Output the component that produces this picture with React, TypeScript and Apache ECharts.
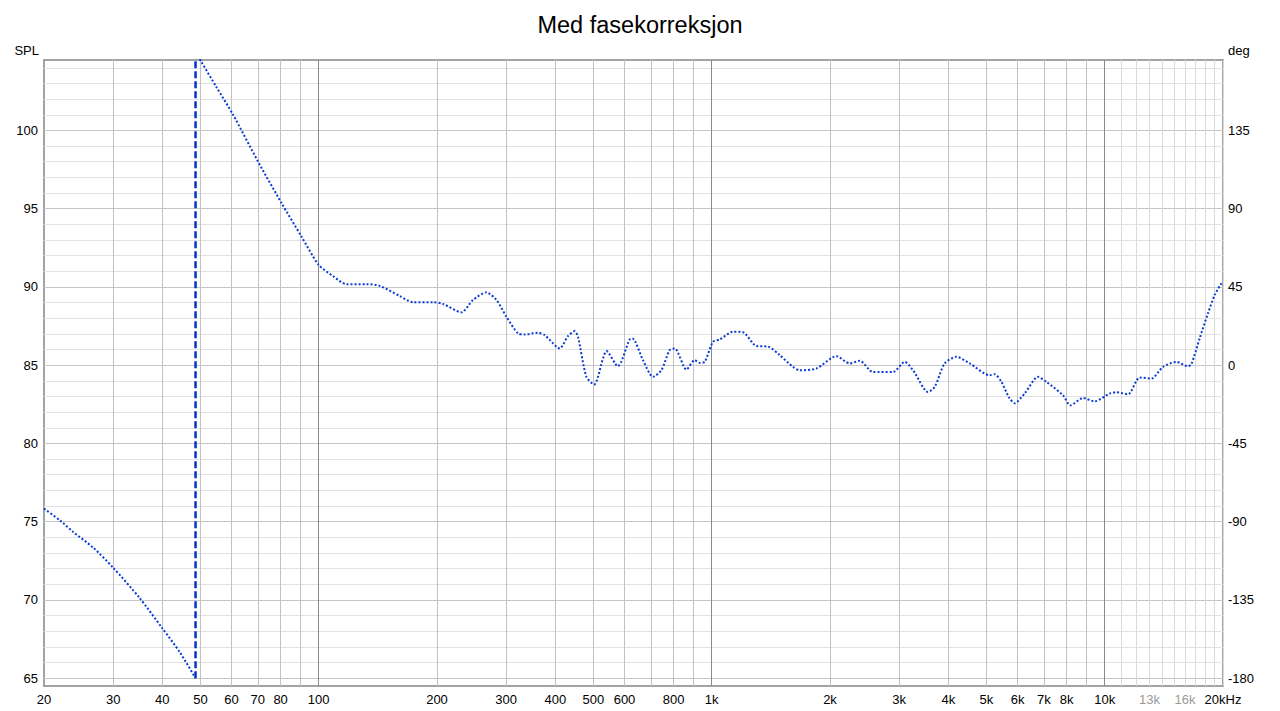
import React, { useEffect, useRef } from "react";
import * as echarts from "echarts";

// Phase trace below the wrap point (Hz, degrees)
const freqLow = [20, 22, 23.7, 26.7, 30, 35, 40, 44.3, 48.6];
const phaseLow = [-82.5, -89.4, -95.8, -105, -116.5, -133.8, -151.3, -165, -180];

// Phase trace after the +180/-180 wrap (Hz, degrees)
const freqHigh = [
  48.6, 50.3, 54.9, 60.5, 70, 80.4, 90.4, 100, 108.7, 117.6, 132.2, 143, 160.8, 173.8, 195.4,
  207.2, 230.7, 247, 267.2, 283.3, 300.3, 321.5, 334.4, 361.4, 376, 402.6, 410.5, 430.9, 448.2,
  456.9, 479.9, 502.3, 529, 539.7, 576.6, 618.4, 628.3, 668.6, 708.9, 744.7, 781.8, 805.2, 862.4,
  905.2, 932.2, 960.1, 1007.6, 1048, 1133, 1202, 1299, 1391, 1489, 1610, 1675, 1847, 2077, 2245,
  2380, 2573, 2893, 3098, 3253, 3552, 3694, 3916, 4195, 4535, 5098, 5249, 5461, 5708, 5900, 6257,
  6767, 7107, 7831, 8178, 8807, 9432, 10297, 10710, 11464, 12277, 13147, 14073, 15221, 16293,
  16620, 17445, 18313, 19055, 19815,
];
const phaseHigh = [
  180, 174.4, 160, 144.2, 117.3, 93.3, 74.0, 57.7, 51.3, 46.6, 46.6, 45.6, 39.8, 36.2, 36.2,
  35.2, 30.4, 37.5, 41.9, 37.5, 27.9, 18.3, 17.7, 18.6, 17.3, 10.6, 9.6, 16.7, 19.6,
  16.3, -6.7, -11.1, 3.9, 8.1, -0.6, 14.8, 15.4, 2.9, -6.7, -2.9, 8.7, 9.6, -2.5,
  2.9, 1.3, 1.9, 13.4, 14.8, 19.2, 18.9, 11, 10.7, 5.8, -1, -2.9, -1.9, 5.2, 1,
  2.5, -3.9, -3.9, 1.9, -2.9, -15.4, -12.5, 1, 4.8, 1, -5.8, -5.2, -9.6, -18.6, -21.9, -16.3,
  -6.7, -9.6, -17.3, -23.1, -18.9, -20.8, -16.3, -15.6, -16.7, -7.1, -7.7, -1, 1.9, -0.6,
  0.6, 15.4, 29.8, 40.4, 47.1,
];

const wrapFreq = 48.6;

const xLabelValues = [
  20, 30, 40, 50, 60, 70, 80, 100, 200, 300, 400, 500, 600, 800, 1000, 2000, 3000, 4000, 5000,
  6000, 7000, 8000, 10000, 13000, 16000, 20000,
];
const xGridMinor = [
  30, 40, 50, 60, 70, 80, 90, 200, 300, 400, 500, 600, 700, 800, 900, 2000, 3000, 4000, 5000,
  6000, 7000, 8000, 9000,
];
const xGridDecade = [100, 1000, 10000];
const xGridTop = [11000, 12000, 13000, 14000, 15000, 16000, 17000, 18000, 19000, 20000];
const xGrayLabels = [13000, 16000];

const splLabels = [65, 70, 75, 80, 85, 90, 95, 100];
const splGrid = [
  65, 66, 67, 68, 69, 70, 71, 72, 73, 74, 75, 76, 77, 78, 79, 80, 81, 82, 83, 84, 85, 86, 87, 88,
  89, 90, 91, 92, 93, 94, 95, 96, 97, 98, 99, 100, 101, 102, 103, 104,
];
const degLabels = [-180, -135, -90, -45, 0, 45, 90, 135];

const FONT = "'Liberation Sans', Arial, sans-serif";

function fmtFreq(v: number): string {
  const r = Math.round(v);
  if (r >= 20000) return "20kHz";
  if (r >= 1000) return r / 1000 + "k";
  return String(r);
}

export default function App() {
  const ref = useRef<HTMLDivElement>(null);

  useEffect(() => {
    if (!ref.current) return;
    const chart = echarts.init(ref.current, null, { renderer: "svg" });

    const xTicks = [...xGridMinor, ...xGridDecade, ...xGridTop].sort((a, b) => a - b);
    const xColors = xTicks.map((v) =>
      xGridDecade.includes(v) ? "#8a8a8a" : xGridTop.includes(v) ? "#dadada" : "#c2c2c2"
    );
    const yColors = splGrid.map((v) => (v % 5 === 0 ? "#c6c6c6" : "#e2e2e2"));

    const lowData = freqLow.map((f, i) => [f, phaseLow[i]]);
    const highData = freqHigh.map((f, i) => [f, phaseHigh[i]]);

    chart.setOption({
      animation: false,
      backgroundColor: "#ffffff",
      title: {
        text: "Med fasekorreksjon",
        left: "center",
        top: 8,
        textStyle: { fontSize: 23.5, fontWeight: "normal", fontFamily: FONT, color: "#000" },
      },
      grid: {
        left: 44,
        right: 57,
        top: 60,
        bottom: 25,
        show: true,
        borderColor: "#a3a3a3",
        borderWidth: 2,
        backgroundColor: "transparent",
      },
      xAxis: {
        type: "log",
        logBase: 10,
        min: 20,
        max: 20000,
        axisLine: { show: false },
        axisTick: { show: false, customValues: xTicks },
        splitLine: { show: true, lineStyle: { color: xColors, width: 1 } },
        minorSplitLine: { show: false },
        axisLabel: {
          customValues: xLabelValues,
          margin: 7,
          fontSize: 13,
          fontFamily: FONT,
          color: "#000",
          formatter: (v: number) => {
            const s = fmtFreq(v);
            return xGrayLabels.includes(Math.round(v)) ? "{g|" + s + "}" : s;
          },
          rich: { g: { color: "#9a9a9a", fontSize: 13, fontFamily: FONT } },
        },
      },
      yAxis: [
        {
          type: "value",
          position: "left",
          min: 64.5,
          max: 104.5,
          name: "SPL",
          nameLocation: "end",
          nameGap: 10,
          nameTextStyle: {
            fontSize: 13,
            fontFamily: FONT,
            color: "#000",
            align: "right",
            verticalAlign: "middle",
            padding: [0, 5, 0, 0],
          },
          axisLine: { show: false },
          axisTick: { show: false, customValues: splGrid },
          splitLine: { show: true, lineStyle: { color: yColors, width: 1 } },
          axisLabel: {
            customValues: splLabels,
            margin: 6,
            fontSize: 13,
            fontFamily: FONT,
            color: "#000",
          },
        },
        {
          type: "value",
          position: "right",
          min: -184.5,
          max: 175.5,
          name: "deg",
          nameLocation: "end",
          nameGap: 10,
          nameTextStyle: {
            fontSize: 13,
            fontFamily: FONT,
            color: "#000",
            align: "left",
            verticalAlign: "middle",
            padding: [0, 0, 0, 5],
          },
          axisLine: { show: false },
          axisTick: { show: false, customValues: degLabels },
          splitLine: { show: false },
          axisLabel: {
            customValues: degLabels,
            margin: 5,
            fontSize: 13,
            fontFamily: FONT,
            color: "#000",
          },
        },
      ],
      series: [
        {
          name: "Phase (low)",
          type: "line",
          yAxisIndex: 1,
          data: lowData,
          showSymbol: false,
          smooth: 0.25,
          clip: true,
          lineStyle: { color: "#0b3bd6", width: 2, type: [2, 2] },
        },
        {
          name: "Phase",
          type: "line",
          yAxisIndex: 1,
          data: highData,
          showSymbol: false,
          smooth: 0.25,
          clip: true,
          lineStyle: { color: "#0b3bd6", width: 2, type: [2, 2] },
        },
        {
          name: "Wrap",
          type: "line",
          yAxisIndex: 1,
          data: [
            [wrapFreq, -180],
            [wrapFreq, 180],
          ],
          showSymbol: false,
          clip: true,
          lineStyle: { color: "#0033cc", width: 2.5, type: [7, 3] },
        },
      ],
    });

    return () => chart.dispose();
  }, []);

  return (
    <div
      ref={ref}
      style={{ position: "fixed", left: 0, top: 0, width: 1280, height: 711, background: "#fff" }}
    />
  );
}
